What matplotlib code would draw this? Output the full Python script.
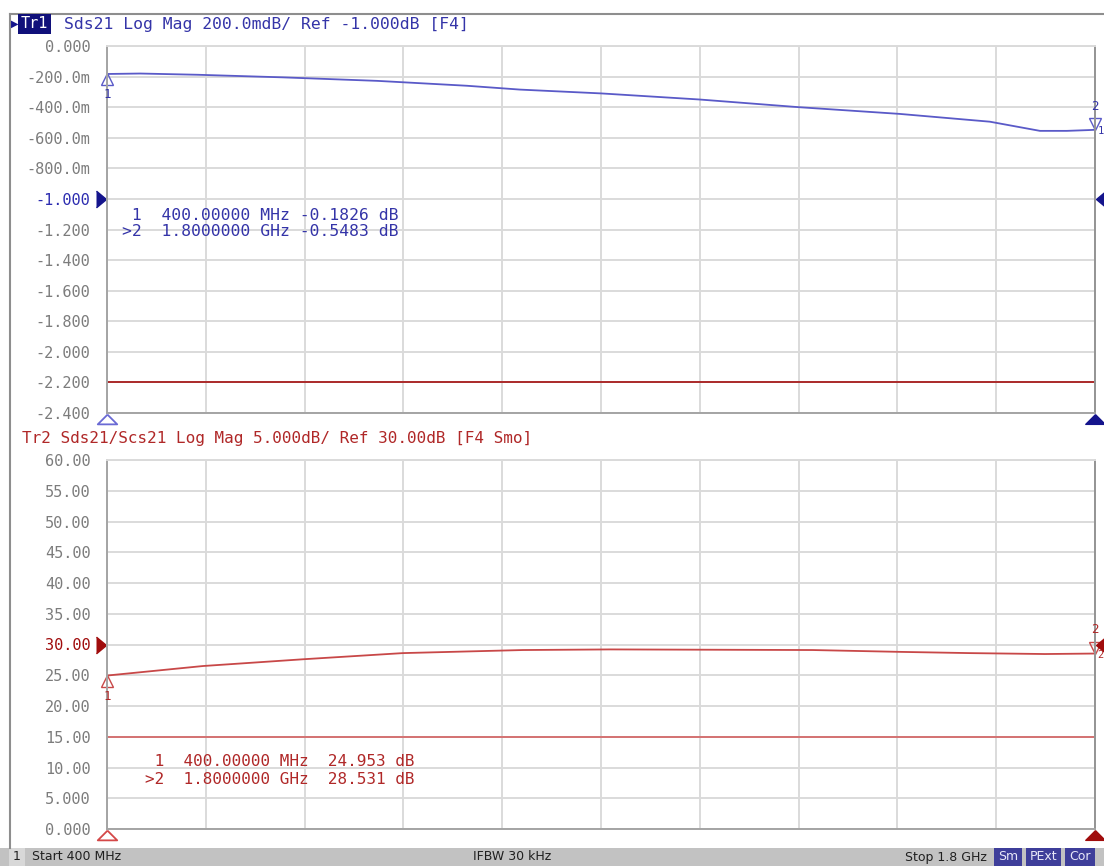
import matplotlib
matplotlib.use('Agg')
import numpy as np
import matplotlib.pyplot as plt
from matplotlib.transforms import Affine2D, blended_transform_factory, offset_copy
from matplotlib.patches import Rectangle

W, H = 1104, 866

# ---- data ----
freq_tr1 = [400, 447, 528, 649, 783, 910, 985, 1100, 1240, 1380, 1523, 1651, 1722, 1760, 1790, 1800]
sds21_tr1 = [-0.183, -0.180, -0.188, -0.205, -0.228, -0.260, -0.285, -0.310, -0.350, -0.400,
             -0.444, -0.495, -0.555, -0.555, -0.550, -0.548]

freq_tr2 = [400, 536, 678, 819, 989, 1113, 1400, 1524, 1623, 1729, 1800]
ratio_tr2 = [24.95, 26.5, 27.6, 28.6, 29.1, 29.2, 29.1, 28.8, 28.6, 28.45, 28.53]

limit_tr1 = -2.2
limit_tr2 = 15.0
ref_tr1 = -1.0
ref_tr2 = 30.0

mk_freq = [400, 1800]
mk_tr1 = [-0.1826, -0.5483]
mk_tr2 = [24.953, 28.531]

yticks_tr1 = [0.0, -0.2, -0.4, -0.6, -0.8, -1.0, -1.2, -1.4, -1.6, -1.8, -2.0, -2.2, -2.4]
ylabels_tr1 = ['0.000', '-200.0m', '-400.0m', '-600.0m', '-800.0m', '-1.000', '-1.200',
               '-1.400', '-1.600', '-1.800', '-2.000', '-2.200', '-2.400']
yticks_tr2 = [60, 55, 50, 45, 40, 35, 30, 25, 20, 15, 10, 5, 0]
ylabels_tr2 = ['60.00', '55.00', '50.00', '45.00', '40.00', '35.00', '30.00', '25.00',
               '20.00', '15.00', '10.00', '5.000', '0.000']

header_tr1 = 'Sds21 Log Mag 200.0mdB/ Ref -1.000dB [F4]'
header_tr2 = 'Tr2 Sds21/Scs21 Log Mag 5.000dB/ Ref 30.00dB [F4 Smo]'
readout_tr1 = [' 1  400.00000 MHz -0.1826 dB', '>2  1.8000000 GHz -0.5483 dB']
readout_tr2 = [' 1  400.00000 MHz  24.953 dB', '>2  1.8000000 GHz  28.531 dB']

MONO = 'DejaVu Sans Mono'
GRID = '#dadada'
TICKC = '#7c7c7c'
BLUE = '#5a5ac8'
BLUE_TXT = '#3434a8'
NAVY = '#14148c'
RED = '#c84848'
RED_TXT = '#b02828'
DRED = '#a00c0c'

fig = plt.figure(figsize=(W / 100, H / 100), dpi=100)
px = Affine2D().scale(1, -1).translate(0, H)   # pixel coords from top-left


def box(l, t, r, b):
    return [l / W, 1 - b / H, (r - l) / W, (b - t) / H]


def setup(ax, ylim, ticks, labels, refval, refcolor):
    ax.set_xlim(400, 1800)
    ax.set_ylim(*ylim)
    ax.set_xticks(np.linspace(400, 1800, 11))
    ax.set_xticklabels([])
    ax.set_yticks(ticks)
    ax.set_yticklabels(labels, family=MONO, fontsize=11, color=TICKC)
    for t, v in zip(ax.get_yticklabels(), ticks):
        if v == refval:
            t.set_color(refcolor)
    ax.tick_params(length=0, pad=12)
    ax.grid(True, color=GRID, linewidth=1.4)
    ax.set_axisbelow(True)
    for s in ['left', 'bottom']:
        ax.spines[s].set_color('#a4a4a4')
        ax.spines[s].set_linewidth(1.4)
    ax.spines['right'].set_color('#949494')
    ax.spines['right'].set_linewidth(1.4)
    ax.spines['top'].set_color(GRID)
    ax.spines['top'].set_linewidth(1.4)


def markers(ax, vals, color, txtcolor, side_label):
    ms = 8
    ax.plot(mk_freq[0], vals[0], marker='^', ms=ms, mfc='none', mec=color, mew=1.0,
            transform=offset_copy(ax.transData, fig=fig, y=-ms / 2, units='points'), clip_on=False)
    ax.annotate('1', (mk_freq[0], vals[0]), xytext=(0, -15), textcoords='offset points',
                ha='center', va='center', fontsize=9, color=txtcolor, family=MONO)
    ax.plot(mk_freq[1], vals[1], marker='v', ms=ms, mfc='none', mec=color, mew=1.0,
            transform=offset_copy(ax.transData, fig=fig, y=ms / 2, units='points'), clip_on=False)
    ax.annotate('2', (mk_freq[1], vals[1]), xytext=(0, 17), textcoords='offset points',
                ha='center', va='center', fontsize=9, color=txtcolor, family=MONO)
    ax.annotate(side_label, (mk_freq[1], vals[1]), xytext=(4.2, -1),
                textcoords='offset points', ha='center', va='center', fontsize=7.5,
                color=txtcolor, family=MONO, annotation_clip=False)


def side_marks(ax, refval, fill, outline):
    bt = blended_transform_factory(ax.transAxes, ax.transData)
    tall = [(-0.6, 1), (0.6, 0), (-0.6, -1)]
    tall_l = [(0.6, 1), (-0.6, 0), (0.6, -1)]
    ax.plot(0, refval, marker=tall, ms=12, color=fill, clip_on=False,
            transform=offset_copy(bt, fig=fig, x=-4.5, units='points'))
    ax.plot(1, refval, marker=tall_l, ms=12, color=fill, clip_on=False,
            transform=offset_copy(bt, fig=fig, x=4.5, units='points'))
    flat = [(0, 0.5), (-1, -0.5), (1, -0.5), (0, 0.5)]
    lo = ax.get_ylim()[0]
    tr = offset_copy(ax.transData, fig=fig, y=-4.0, units='points')
    ax.plot(400, lo, marker=flat, ms=14, mfc='white', mec=outline, mew=1.3, clip_on=False,
            transform=tr, zorder=5)
    ax.plot(1800, lo, marker=flat, ms=14, color=fill, clip_on=False, transform=tr, zorder=5)


# ---- Tr1 ----
ax1 = fig.add_axes(box(107, 46, 1095, 413))
setup(ax1, (-2.4, 0), yticks_tr1, ylabels_tr1, ref_tr1, '#2c2cb0')
ax1.plot(freq_tr1, sds21_tr1, color=BLUE, linewidth=1.3)
ax1.axhline(limit_tr1, color='#a81c1c', linewidth=1.3)
markers(ax1, mk_tr1, BLUE, BLUE_TXT, '1')
side_marks(ax1, ref_tr1, NAVY, '#6a6ad4')

# ---- Tr2 ----
ax2 = fig.add_axes(box(107, 460, 1095, 829))
setup(ax2, (0, 60), yticks_tr2, ylabels_tr2, ref_tr2, DRED)
ax2.plot(freq_tr2, ratio_tr2, color=RED, linewidth=1.3)
ax2.axhline(limit_tr2, color='#d46a6a', linewidth=1.3)
markers(ax2, mk_tr2, RED, RED_TXT, '2')
side_marks(ax2, ref_tr2, DRED, '#d44848')

# ---- headers ----
fig.text(11, 24, '\u25B6', transform=px, fontsize=7, color=NAVY, va='center', ha='left')
fig.text(21, 24, 'Tr1', transform=px, family=MONO, fontsize=11, color='white', va='center',
         ha='left', bbox=dict(facecolor='#10107a', edgecolor='none', pad=2.0))
fig.text(64, 24, header_tr1, transform=px, family=MONO, fontsize=11.8, color=BLUE_TXT,
         va='center', ha='left')
fig.text(22, 438, header_tr2, transform=px, family=MONO, fontsize=11.5, color=RED_TXT,
         va='center', ha='left')

# ---- marker readouts ----
for i, line in enumerate(readout_tr1):
    fig.text(122, 215 + 17 * i, line, transform=px, family=MONO, fontsize=11.8,
             color=BLUE_TXT, va='center', ha='left')
for i, line in enumerate(readout_tr2):
    fig.text(145, 762 + 17 * i, line, transform=px, family=MONO, fontsize=11.5,
             color=RED_TXT, va='center', ha='left')

# ---- outer frame ----
fig.add_artist(plt.Line2D([10, W], [14, 14], transform=px, color='#8e8e8e', linewidth=1.5))
fig.add_artist(plt.Line2D([10, 10], [14, 848], transform=px, color='#8e8e8e', linewidth=1.5))

# ---- status bar ----
fig.add_artist(Rectangle((0, 848), W, 18, transform=px, facecolor='#c2c2c2', edgecolor='none'))
fig.add_artist(Rectangle((9, 848), 16, 18, transform=px, facecolor='#d8d8d8', edgecolor='none'))
fig.text(17, 857, '1', transform=px, fontsize=9, color='#202020', ha='center', va='center')
fig.text(32, 857, 'Start 400 MHz', transform=px, fontsize=9, color='#202020', ha='left', va='center')
fig.text(512, 857, 'IFBW 30 kHz', transform=px, fontsize=9, color='#202020', ha='center', va='center')
fig.text(987, 857, 'Stop 1.8 GHz', transform=px, fontsize=9, color='#202020', ha='right', va='center')
for x0, x1, lab in [(994, 1022, 'Sm'), (1026, 1061, 'PExt'), (1065, 1095, 'Cor')]:
    fig.add_artist(Rectangle((x0, 848), x1 - x0, 18, transform=px, facecolor='#3e3e9a',
                             edgecolor='none'))
    fig.text((x0 + x1) / 2, 857, lab, transform=px, fontsize=9, color='#e8e8f8',
             ha='center', va='center')

fig.savefig('out.png', dpi=100)
